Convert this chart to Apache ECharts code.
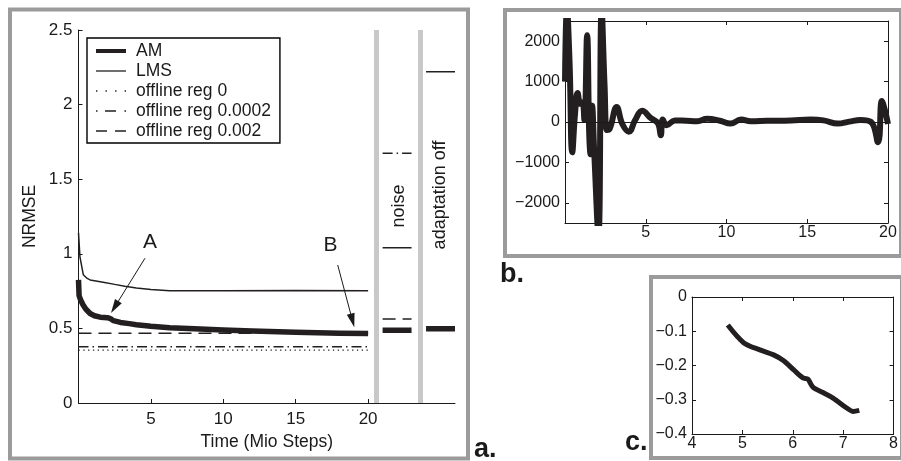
<!DOCTYPE html>
<html>
<head>
<meta charset="utf-8">
<script src="https://cdn.jsdelivr.net/npm/echarts@6/dist/echarts.min.js"></script>
<style>html,body{margin:0;padding:0;background:#fff}#c{width:901px;height:461px}</style>
</head>
<body>
<div id="c"></div>
<script>
// ---------- Panel a data ----------
const legendNames = ['AM', 'LMS', 'offline reg 0', 'offline reg 0.0002', 'offline reg 0.002'];
const amX = [0, 0.04, 0.15, 0.3, 0.5, 0.8, 1.1, 1.5, 2.0, 2.2, 2.4, 2.9, 3.5, 4.0, 5.0, 6.3, 8, 10, 12, 15, 18, 20];
const amY = [0.825, 0.72, 0.69, 0.66, 0.63, 0.60, 0.585, 0.575, 0.572, 0.566, 0.552, 0.54, 0.532, 0.525, 0.515, 0.505, 0.497, 0.49, 0.482, 0.475, 0.468, 0.465];
const lmsX = [0, 0.1, 0.33, 0.6, 0.8, 1.7, 2.5, 3.2, 4.0, 5.0, 6.3, 8, 10, 15, 20];
const lmsY = [1.14, 0.98, 0.86, 0.835, 0.825, 0.81, 0.795, 0.782, 0.77, 0.76, 0.753, 0.752, 0.752, 0.754, 0.752];
const offlineReg0 = 0.355;
const offlineReg00002 = 0.377;
const offlineReg0002 = 0.467;
const trainEnd = 20;
// "noise" phase values (x from 21 to 23)
const noiseRange = [21, 23];
const noiseAM = 0.487;
const noiseLMS = 1.041;
const noiseReg00002 = 1.674;
const noiseReg0002 = 0.563;
// "adaptation off" phase values (x from 24 to 26)
const offRange = [24, 26];
const offAM = 0.497;
const offLMS = 2.22;
const phaseBars = [20.58, 23.62];
const aXTicks = [5, 10, 15, 20];
// annotations: [label x, label y, arrow start x, y, arrow end x, y]
const annotA = [4.94, 1.08, 4.59, 0.97, 2.5, 0.643];
const annotB = [17.4, 1.06, 17.9, 0.925, 18.92, 0.553];

// ---------- Panel b data ----------
const bX = [0, 0.12, 0.28, 0.45, 0.62, 0.78, 0.95, 1.08, 1.2, 1.37, 1.5, 1.58, 1.68, 1.8, 2.07, 2.27, 2.45, 2.6, 2.75, 3.2, 3.55, 3.95, 4.35, 4.78, 5.3, 5.75, 5.93, 6.05, 6.3, 6.8, 7.5, 8.2, 8.8, 9.6, 10.25, 10.9, 11.5, 12.5, 14, 15.2, 16, 16.9, 17.6, 18.3, 18.95, 19.38, 19.62, 19.8, 20];
const bY = [1000, 2800, 1500, -750, 200, 720, 450, 480, 50, 2150, -300, -800, 400, -650, -2800, 2800, 900, -200, -180, 370, -50, -240, 50, 280, 100, -30, -330, 60, -80, 40, 30, 20, 80, 30, -40, 60, 20, 30, 40, 60, 40, -40, 10, 50, 0, -500, 520, 300, -50];
const bXTicks = [5, 10, 15, 20];
const bYTicks = [-2000, -1000, 0, 1000, 2000];

// ---------- Panel c data ----------
const cX = [4.71, 5.03, 5.36, 5.62, 5.82, 6.02, 6.2, 6.3, 6.4, 6.6, 6.8, 7.07, 7.2, 7.32];
const cY = [-0.082, -0.134, -0.155, -0.169, -0.186, -0.213, -0.236, -0.240, -0.263, -0.279, -0.295, -0.324, -0.334, -0.331];
const cXTicks = [4, 5, 6, 7, 8];
const cYTicks = [0, -0.1, -0.2, -0.3, -0.4];

// ---------- build ----------
const FONT = "'Liberation Sans', Arial, Helvetica, sans-serif";
const INK = '#1a1a1a';
const CURVE = '#231f20';
const FRAME = '#9b9b9b';
const BAR = '#c8c8c8';
const minus = v => (v < 0 ? '\u2212' + String(Math.abs(v)) : String(v));
const pairs = (xs, ys) => xs.map((x, i) => [x, ys[i]]);
const gap = x => [x, null];

// legend line-sample icons (solid thick, solid thin, dotted, dash-dot, dashed)
const legendIcons = [
  'path://M0,0 H30 V4 H0 Z',
  'path://M0,0 H30 V1.3 H0 Z',
  'path://M0,0 H1.4 V1.4 H0 Z M9.5,0 H10.9 V1.4 H9.5 Z M19.1,0 H20.5 V1.4 H19.1 Z M28.6,0 H30 V1.4 H28.6 Z',
  'path://M0,0 H1.5 V1.5 H0 Z M9,0 H20 V1.5 H9 Z M28.5,0 H30 V1.5 H28.5 Z',
  'path://M0,0 H11 V1.5 H0 Z M19,0 H30 V1.5 H19 Z'
];

const amData = pairs(amX, amY).concat([gap(20.5), [noiseRange[0], noiseAM], [noiseRange[1], noiseAM], gap(23.5), [offRange[0], offAM], [offRange[1], offAM]]);
const lmsData = pairs(lmsX, lmsY).concat([gap(20.5), [noiseRange[0], noiseLMS], [noiseRange[1], noiseLMS], gap(23.5), [offRange[0], offLMS], [offRange[1], offLMS]]);
const reg0Data = [[0, offlineReg0], [trainEnd, offlineReg0]];
const reg00002Data = [[0, offlineReg00002], [trainEnd, offlineReg00002], gap(20.5), [noiseRange[0], noiseReg00002], [noiseRange[1], noiseReg00002]];
const reg0002Data = [[0, offlineReg0002], [trainEnd, offlineReg0002], gap(20.5), [noiseRange[0], noiseReg0002], [noiseRange[1], noiseReg0002]];

const tick = (vals, show = true) => ({ show, inside: true, length: 4, customValues: vals, lineStyle: { color: INK, width: 1 } });
const axLine = { show: true, onZero: false, lineStyle: { color: INK, width: 1 } };

const chart = echarts.init(document.getElementById('c'), null, { renderer: 'canvas' });
chart.setOption({
  animation: false,
  backgroundColor: '#ffffff',
  textStyle: { fontFamily: FONT, color: INK },
  grid: [
    { left: 78.5, top: 30, width: 376.5, height: 373 },
    { left: 565, top: 21, width: 323, height: 202 },
    { left: 692, top: 297, width: 203, height: 137 }
  ],
  xAxis: [
    { gridIndex: 0, type: 'value', min: 0, max: 26, axisLine: axLine, axisTick: tick(aXTicks),
      axisLabel: { customValues: aXTicks, fontSize: 17, color: INK, margin: 8, fontFamily: FONT }, splitLine: { show: false },
      name: 'Time (Mio Steps)', nameLocation: 'middle', nameGap: 26, nameTextStyle: { fontSize: 17.5, color: INK, fontFamily: FONT } },
    { gridIndex: 1, type: 'value', min: 0, max: 20, position: 'bottom', axisLine: axLine, axisTick: tick(bXTicks),
      axisLabel: { customValues: bXTicks, fontSize: 16, color: INK, margin: 2, fontFamily: FONT }, splitLine: { show: false } },
    { gridIndex: 1, type: 'value', min: 0, max: 20, position: 'top', axisLine: axLine, axisTick: tick(bXTicks),
      axisLabel: { show: false }, splitLine: { show: false } },
    { gridIndex: 2, type: 'value', min: 4, max: 8, position: 'bottom', axisLine: axLine, axisTick: tick(cXTicks),
      axisLabel: { customValues: cXTicks, fontSize: 16, color: INK, margin: 2, fontFamily: FONT }, splitLine: { show: false } },
    { gridIndex: 2, type: 'value', min: 4, max: 8, position: 'top', axisLine: axLine, axisTick: tick(cXTicks),
      axisLabel: { show: false }, splitLine: { show: false } }
  ],
  yAxis: [
    { gridIndex: 0, type: 'value', min: 0, max: 2.5, interval: 0.5, axisLine: axLine,
      axisTick: { show: true, inside: true, length: 4, lineStyle: { color: INK } },
      axisLabel: { fontSize: 17, color: INK, margin: 6, fontFamily: FONT }, splitLine: { show: false },
      name: 'NRMSE', nameLocation: 'middle', nameRotate: 90, nameGap: 39, nameTextStyle: { fontSize: 17.5, color: INK, fontFamily: FONT } },
    { gridIndex: 1, type: 'value', min: -2500, max: 2500, position: 'left', axisLine: axLine, axisTick: tick(bYTicks),
      axisLabel: { customValues: bYTicks, fontSize: 16, color: INK, margin: 5, formatter: minus, fontFamily: FONT }, splitLine: { show: false } },
    { gridIndex: 1, type: 'value', min: -2500, max: 2500, position: 'right', axisLine: axLine, axisTick: tick(bYTicks),
      axisLabel: { show: false }, splitLine: { show: false } },
    { gridIndex: 2, type: 'value', min: -0.4, max: 0, position: 'left', axisLine: axLine, axisTick: tick(cYTicks),
      axisLabel: { customValues: cYTicks, fontSize: 16, color: INK, margin: 5, formatter: minus, fontFamily: FONT }, splitLine: { show: false } },
    { gridIndex: 2, type: 'value', min: -0.4, max: 0, position: 'right', axisLine: axLine, axisTick: tick(cYTicks),
      axisLabel: { show: false }, splitLine: { show: false } }
  ],
  legend: {
    data: legendNames.map((n, i) => ({ name: n, icon: legendIcons[i], itemStyle: { color: CURVE, borderWidth: 0 } })),
    orient: 'vertical', left: 87, top: 38,
    itemWidth: 30, itemHeight: 14, itemGap: 0,
    borderColor: '#000', borderWidth: 1.4, borderRadius: 0, backgroundColor: '#fff',
    padding: [3, 9, 2, 9],
    textStyle: { fontSize: 17.5, color: INK, lineHeight: 20, fontFamily: FONT, padding: [0, 0, 0, 5] },
    selectedMode: false
  },
  series: [
    { name: 'AM', type: 'line', xAxisIndex: 0, yAxisIndex: 0, data: amData, symbol: 'none', connectNulls: false,
      lineStyle: { color: CURVE, width: 5.5, cap: 'butt', join: 'round' }, itemStyle: { color: CURVE }, z: 5 },
    { name: 'LMS', type: 'line', xAxisIndex: 0, yAxisIndex: 0, data: lmsData, symbol: 'none', connectNulls: false,
      lineStyle: { color: CURVE, width: 1.5 }, itemStyle: { color: CURVE }, z: 4,
      markLine: { silent: true, symbol: ['none', 'none'], label: { show: false },
        lineStyle: { color: BAR, width: 5, type: 'solid' },
        data: phaseBars.map(x => ({ xAxis: x })) } },
    { name: 'offline reg 0', type: 'line', xAxisIndex: 0, yAxisIndex: 0, data: reg0Data, symbol: 'none',
      lineStyle: { color: CURVE, width: 1.3, type: [1.3, 3.5] }, itemStyle: { color: CURVE } },
    { name: 'offline reg 0.0002', type: 'line', xAxisIndex: 0, yAxisIndex: 0, data: reg00002Data, symbol: 'none', connectNulls: false,
      lineStyle: { color: CURVE, width: 1.5, type: [10, 4, 1.5, 4] }, itemStyle: { color: CURVE } },
    { name: 'offline reg 0.002', type: 'line', xAxisIndex: 0, yAxisIndex: 0, data: reg0002Data, symbol: 'none', connectNulls: false,
      lineStyle: { color: CURVE, width: 1.5, type: [13, 7] }, itemStyle: { color: CURVE } },
    { name: 'annotations', type: 'line', xAxisIndex: 0, yAxisIndex: 0, data: [], symbol: 'none',
      markLine: { silent: true, label: { show: false }, symbol: ['none', 'triangle'], symbolSize: 14,
        lineStyle: { color: INK, width: 1, type: 'solid' }, itemStyle: { color: INK },
        data: [annotA, annotB].map(a => [
          { coord: [a[2], a[3]], symbol: 'none' },
          { coord: [a[4], a[5]], symbol: 'triangle', symbolSize: [8, 14] }
        ]) },
      markPoint: { silent: true, symbol: 'circle', symbolSize: 1, itemStyle: { color: 'rgba(0,0,0,0)' },
        label: { show: true, position: 'inside', formatter: '{b}', fontSize: 21, color: INK, fontFamily: FONT },
        data: [{ name: 'A', coord: [annotA[0], annotA[1]] }, { name: 'B', coord: [annotB[0], annotB[1]] }] } },
    { name: 'b', type: 'line', xAxisIndex: 1, yAxisIndex: 1, data: pairs(bX, bY), symbol: 'none', smooth: 0.45,
      lineStyle: { color: CURVE, width: 6, join: 'round' }, clip: true,
      markLine: { silent: true, symbol: ['none', 'none'], label: { show: false },
        lineStyle: { color: INK, width: 1, type: 'solid' }, data: [{ yAxis: 0 }] }, z: 3 },
    { name: 'c', type: 'line', xAxisIndex: 3, yAxisIndex: 3, data: pairs(cX, cY), symbol: 'none', smooth: 0.3,
      lineStyle: { color: CURVE, width: 5, join: 'round' } }
  ],
  graphic: [
    { type: 'rect', z: -10, shape: { x: 10, y: 9.5, width: 458, height: 449 }, style: { fill: 'none', stroke: FRAME, lineWidth: 4 } },
    { type: 'rect', z: -10, shape: { x: 505, y: 10, width: 396, height: 246 }, style: { fill: 'none', stroke: FRAME, lineWidth: 4 } },
    { type: 'rect', z: -10, shape: { x: 651, y: 277, width: 251, height: 181 }, style: { fill: 'none', stroke: FRAME, lineWidth: 4 } },
    { type: 'text', x: 474, y: 450, style: { text: 'a.', fontSize: 27, fontWeight: 'bold', fontFamily: FONT, fill: INK, verticalAlign: 'middle' } },
    { type: 'text', x: 500, y: 275, style: { text: 'b.', fontSize: 27, fontWeight: 'bold', fontFamily: FONT, fill: INK, verticalAlign: 'middle' } },
    { type: 'text', x: 625, y: 443, style: { text: 'c.', fontSize: 27, fontWeight: 'bold', fontFamily: FONT, fill: INK, verticalAlign: 'middle' } },
    { type: 'text', x: 399, y: 206, rotation: Math.PI / 2, style: { text: 'noise', fontSize: 18, fontFamily: FONT, fill: INK, align: 'center', verticalAlign: 'middle' } },
    { type: 'text', x: 440, y: 195, rotation: Math.PI / 2, style: { text: 'adaptation off', fontSize: 18, fontFamily: FONT, fill: INK, align: 'center', verticalAlign: 'middle' } }
  ]
});
</script>
</body>
</html>
